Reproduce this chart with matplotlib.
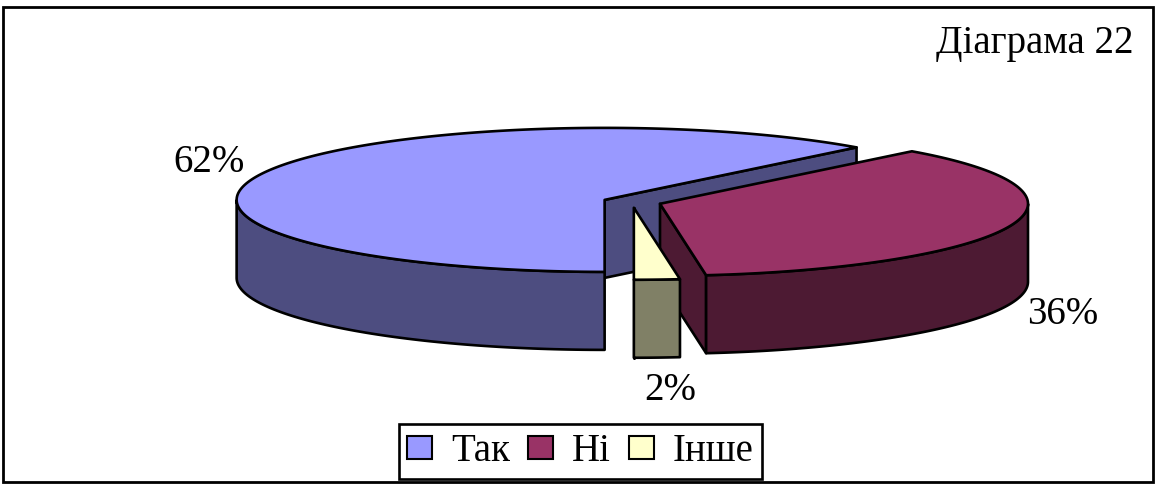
import numpy as np
import matplotlib.pyplot as plt
from matplotlib.patches import Patch, Polygon, Rectangle

categorias = ["Так", "Ні", "Інше"]
valores = [62, 36, 2]
etiquetas = ["62%", "36%", "2%"]
colores = ["#9999FF", "#993366", "#FFFFCC"]
colores_lado = ["#4D4D80", "#4D1A33", "#808066"]
titulo = "Діаграма 22"

# geometria del pastel (pixeles)
CX, CY = 632, 202
RX, RY = 368, 72
ALTO = 78
EXPLODE = 0.08
INICIO = 270
LW = 1.9

plt.rcParams["font.family"] = ["Liberation Serif", "DejaVu Serif"]

fig = plt.figure(figsize=(11.6, 4.84), dpi=100)
ax = fig.add_axes([0, 0, 1, 1])
ax.set_xlim(0, 1160)
ax.set_ylim(484, 0)
ax.axis("off")

ax.add_patch(Rectangle((3, 7), 1150, 475, fill=False, ec="black", lw=2, zorder=0))


def borde(cx, cy, t):
    return np.column_stack([cx + RX * np.cos(t), cy - RY * np.sin(t)])


def dibujar(cx, cy, t1, t2, cara, lado, z):
    # t1 > t2, el sector avanza en sentido horario
    t = np.linspace(t1, t2, 200)
    p = borde(cx, cy, t)
    abajo = np.array([0, ALTO])

    # cara de corte final
    q = p[-1]
    c = np.array([cx, cy])
    ax.add_patch(Polygon([c, q, q + abajo, c + abajo], fc=lado, ec="black",
                         lw=LW, joinstyle="round", zorder=z))

    # pared exterior: la parte con seno negativo
    s = t[np.sin(t) <= 0]
    if len(s) > 1:
        f = borde(cx, cy, s)
        ax.add_patch(Polygon(np.vstack([f, f[::-1] + abajo]), fc=lado, ec="black",
                             lw=LW, joinstyle="round", zorder=z + 0.1))

    # tapa
    ax.add_patch(Polygon(np.vstack([[cx, cy], p]), fc=cara, ec="black",
                         lw=LW, joinstyle="round", zorder=z + 0.2))


fin = np.cumsum(valores) / np.sum(valores) * 2 * np.pi
ini = np.r_[0, fin[:-1]]
for i in range(len(valores)):
    t1 = np.radians(INICIO) - ini[i]
    t2 = np.radians(INICIO) - fin[i]
    medio = (t1 + t2) / 2
    cx = CX + EXPLODE * RX * np.cos(medio)
    cy = CY - EXPLODE * RY * np.sin(medio)
    dibujar(cx, cy, t1, t2, colores[i], colores_lado[i], i + 1)

pos_etiquetas = [(209, 163), (1063, 315), (670, 390)]
for e, (x, y) in zip(etiquetas, pos_etiquetas):
    ax.text(x, y, e, fontsize=28, ha="center", va="center", color="black", zorder=10)

ax.text(1035, 43, titulo, fontsize=28, ha="center", va="center", color="black", zorder=10)

handles = [Patch(fc=c, ec="black", lw=1.5) for c in colores]
leg = ax.legend(handles, categorias, ncol=3, loc="center", bbox_to_anchor=(580.5, 451.5),
                bbox_transform=ax.transData, fontsize=28, frameon=True, fancybox=False,
                framealpha=1, edgecolor="black", handlelength=0.64, handleheight=0.55,
                handletextpad=0.5, columnspacing=0.45, borderpad=0.22, borderaxespad=0)
leg.get_frame().set_linewidth(1.9)
leg.set_zorder(10)

fig.savefig("out.png", dpi=100)
